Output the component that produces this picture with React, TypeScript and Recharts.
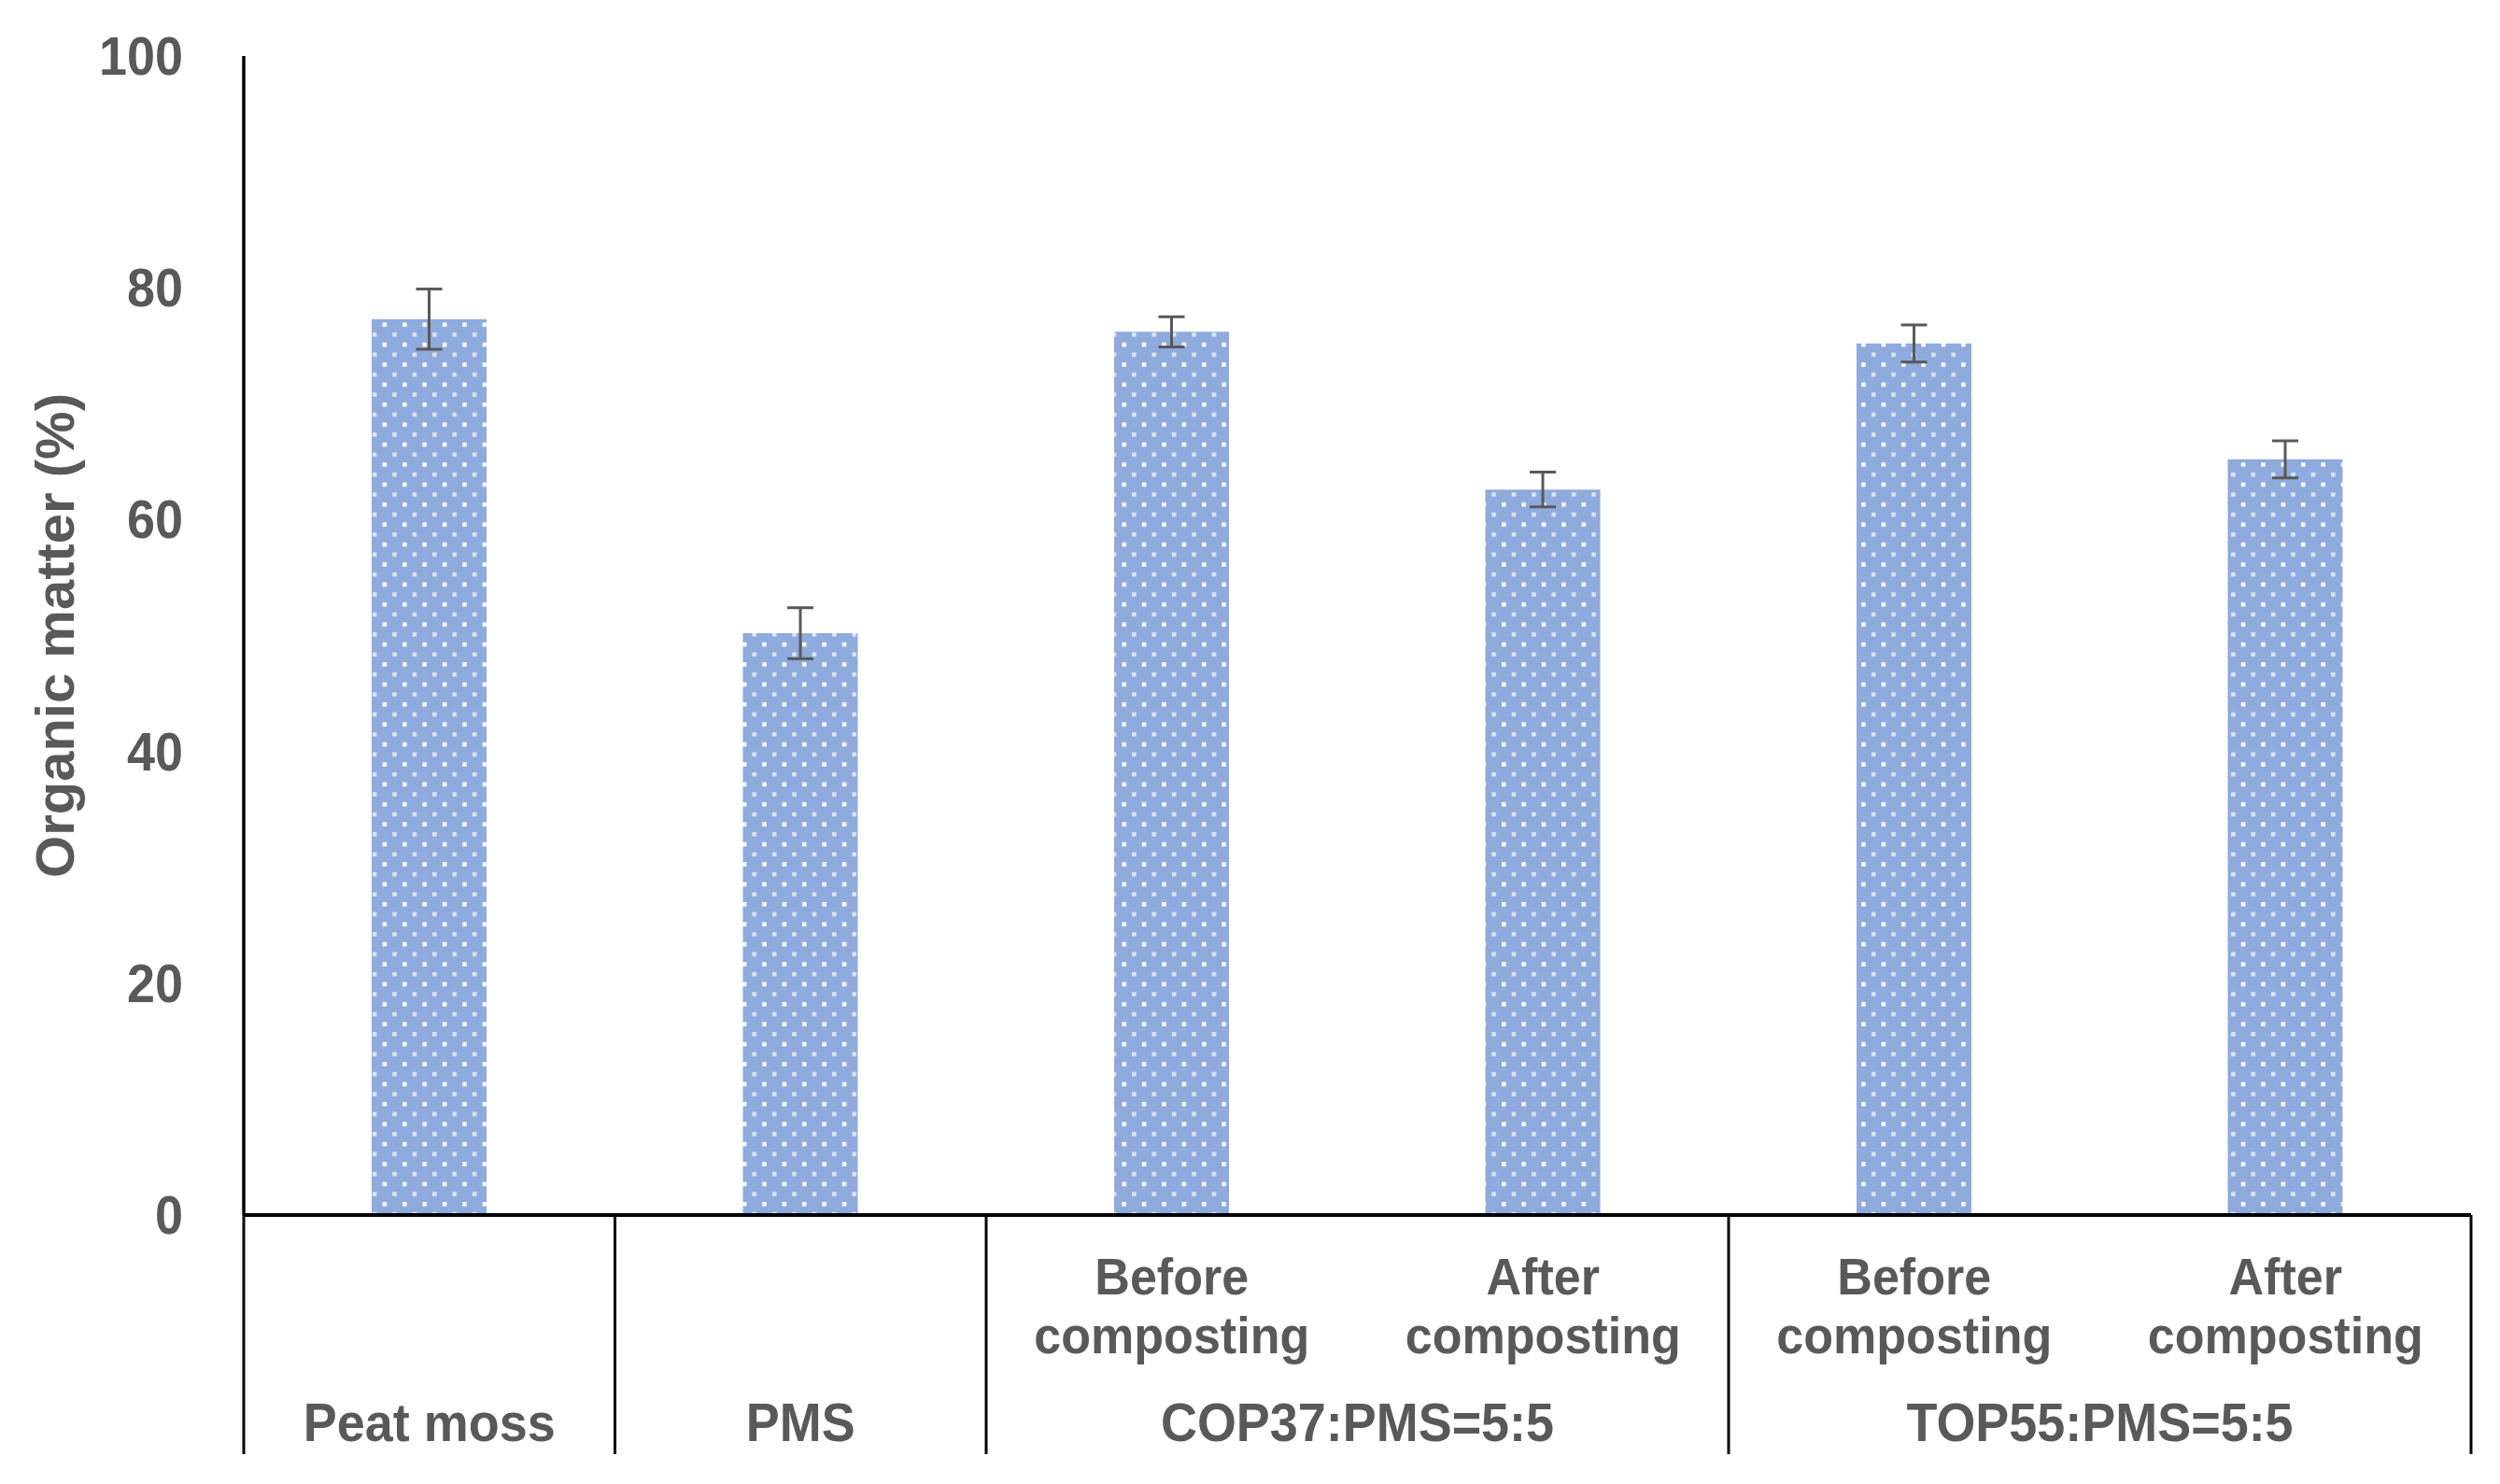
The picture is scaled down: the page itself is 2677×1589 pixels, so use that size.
import React from "react";
import { BarChart, Bar, XAxis, YAxis, ErrorBar, Label } from "recharts";

const groups = [
  "Peat moss",
  "PMS",
  "COP37:PMS=5:5",
  "COP37:PMS=5:5",
  "TOP55:PMS=5:5",
  "TOP55:PMS=5:5",
];
const stages = [
  [],
  [],
  ["Before", "composting"],
  ["After", "composting"],
  ["Before", "composting"],
  ["After", "composting"],
];
const organicMatter = [77.3, 50.2, 76.2, 62.6, 75.2, 65.2];
const errors = [2.6, 2.2, 1.3, 1.5, 1.6, 1.6];
const yTicks = [0, 20, 40, 60, 80, 100];

const data = groups.map((g, i) => ({
  idx: i,
  group: g,
  value: organicMatter[i],
  err: errors[i],
}));

const W = 2677;
const H = 1589;
const LEFT = 261;
const RIGHT = 31;
const TOP = 60;
const XAXIS_H = 256;
const BOTTOM = 32;
const STEP = (W - LEFT - RIGHT) / groups.length;

const font = "'Liberation Sans', Arial, sans-serif";
const gray = "#595959";
const SQUEEZE = 0.93;

const textStyle = {
  fill: gray,
  fontSize: 58,
  fontWeight: "bold" as const,
  fontFamily: font,
};

function Squeezed({ x, y, children, anchor = "middle", size = 58 }: any) {
  return (
    <text
      transform={`translate(${x},${y}) scale(${SQUEEZE},1)`}
      x={0}
      y={0}
      textAnchor={anchor}
      style={{ ...textStyle, fontSize: size }}
    >
      {children}
    </text>
  );
}

function CategoryTick(props: any) {
  const { x, y, payload } = props;
  const i = payload.value as number;
  const g = groups[i];
  const first = i === 0 || groups[i - 1] !== g;
  let span = 1;
  while (first && i + span < groups.length && groups[i + span] === g) span++;
  const left = x - STEP / 2;
  return (
    <g>
      {first && (
        <line x1={left} y1={y} x2={left} y2={y + XAXIS_H} stroke="#000" strokeWidth={3} />
      )}
      {i === groups.length - 1 && (
        <line x1={x + STEP / 2} y1={y} x2={x + STEP / 2} y2={y + XAXIS_H} stroke="#000" strokeWidth={3} />
      )}
      {stages[i].map((s, k) => (
        <Squeezed key={k} x={x} y={y + 85 + k * 63} size={56}>
          {s}
        </Squeezed>
      ))}
      {first && (
        <Squeezed x={left + (span * STEP) / 2} y={y + 242}>
          {g}
        </Squeezed>
      )}
    </g>
  );
}

function ValueTick(props: any) {
  const { x, y, payload } = props;
  return (
    <Squeezed x={x} y={y + 20} anchor="end">
      {payload.value}
    </Squeezed>
  );
}

export default function App() {
  return (
    <div style={{ position: "absolute", left: 0, top: 0, background: "#fff" }}>
      <BarChart
        width={W}
        height={H}
        data={data}
        margin={{ top: TOP, right: RIGHT, left: 0, bottom: BOTTOM }}
        barSize={123}
      >
        <defs>
          <pattern id="dots" patternUnits="userSpaceOnUse" width={21.4} height={21.4}>
            <rect width={21.4} height={21.4} fill="#8FAADC" />
            <rect x={3} y={3} width={4.5} height={4.5} fill="#fff" />
            <rect x={13.7} y={13.7} width={4.5} height={4.5} fill="#fff" opacity={0.7} />
          </pattern>
        </defs>
        <XAxis
          dataKey="idx"
          height={XAXIS_H}
          interval={0}
          tickLine={false}
          tickSize={0}
          tickMargin={0}
          axisLine={{ stroke: "#000", strokeWidth: 4 }}
          tick={<CategoryTick />}
        />
        <YAxis
          width={LEFT}
          domain={[0, 100]}
          ticks={yTicks}
          tickLine={false}
          tickSize={0}
          tickMargin={65}
          axisLine={{ stroke: "#000", strokeWidth: 3.5 }}
          tick={<ValueTick />}
        >
          <Label
            content={(p: any) => {
              const vb = p.viewBox || {};
              const cy = (vb.y || TOP) + (vb.height || 0) / 2;
              return (
                <text
                  x={58}
                  y={cy}
                  transform={`rotate(-90, 58, ${cy})`}
                  textAnchor="middle"
                  dominantBaseline="central"
                  style={textStyle}
                >
                  Organic matter (%)
                </text>
              );
            }}
          />
        </YAxis>
        <Bar dataKey="value" fill="url(#dots)" isAnimationActive={false}>
          <ErrorBar dataKey="err" width={14} stroke={gray} strokeWidth={3} />
        </Bar>
      </BarChart>
    </div>
  );
}
